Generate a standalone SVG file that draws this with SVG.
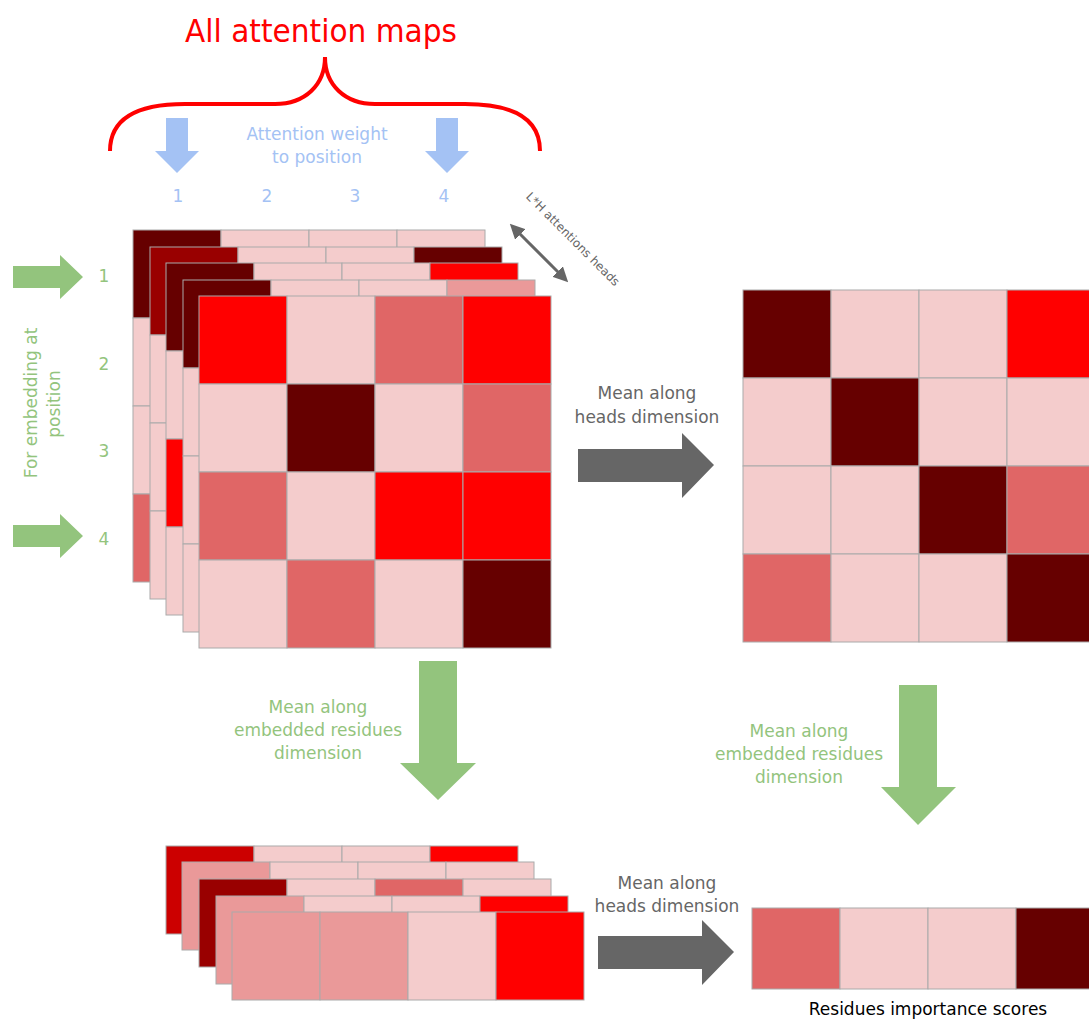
<svg xmlns="http://www.w3.org/2000/svg" width="1089" height="1019" viewBox="0 0 1089 1019">
<defs>
<style>
.c{stroke:#aaaaaa;stroke-width:1}
.dk{fill:#660000}.dr{fill:#990000}.cr{fill:#cc0000}.rd{fill:#ff0000}.md{fill:#e06666}.lp{fill:#ea9999}.pk{fill:#f4cccc}
text{font-family:"DejaVu Sans","Liberation Sans",sans-serif;font-size:17px}
.g{fill:#93c47d}.b{fill:#a4c2f4}.gy{fill:#666666}
</style>
<marker id="ah" viewBox="0 0 10 10" refX="7" refY="5" markerWidth="15" markerHeight="15" markerUnits="userSpaceOnUse" orient="auto-start-reverse"><path d="M0,0 L10,5 L0,10 z" fill="#666666"/></marker>
</defs>
<rect width="1089" height="1019" fill="#ffffff"/>

<g id="title">
<text x="321" y="42" text-anchor="middle" style="font-size:32px" fill="#ff0000" textLength="272" lengthAdjust="spacingAndGlyphs">All attention maps</text>
<path d="M110,151 C110,120 135,104 185,104 L275,104 C305,104 325,85 325,57 C325,85 345,104 375,104 L465,104 C515,104 540,120 540,151" fill="none" stroke="#ff0000" stroke-width="4"/>
</g>

<g id="top-labels">
<text class="b" x="317" y="140" text-anchor="middle">Attention weight</text>
<text class="b" x="317" y="163" text-anchor="middle">to position</text>
<text class="b" x="178" y="202" text-anchor="middle">1</text>
<text class="b" x="267" y="202" text-anchor="middle">2</text>
<text class="b" x="355" y="202" text-anchor="middle">3</text>
<text class="b" x="444" y="202" text-anchor="middle">4</text>
</g>

<g id="left-labels">
<text class="g" x="104" y="282" text-anchor="middle">1</text>
<text class="g" x="104" y="370" text-anchor="middle">2</text>
<text class="g" x="104" y="457" text-anchor="middle">3</text>
<text class="g" x="104" y="545" text-anchor="middle">4</text>
<text class="g" transform="translate(37,403) rotate(-90)" text-anchor="middle">For embedding at</text>
<text class="g" transform="translate(60,404) rotate(-90)" text-anchor="middle">position</text>
</g>

<g id="heads-label">
<text class="gy" transform="translate(570,242) rotate(45)" text-anchor="middle" style="font-size:12px">L*H attentions heads</text>
</g>

<g id="stack-layer1" class="c">
<rect class="dk" x="133" y="230" width="88" height="88"/><rect class="pk" x="221" y="230" width="88" height="88"/><rect class="pk" x="309" y="230" width="88" height="88"/><rect class="pk" x="397" y="230" width="88" height="88"/>
<rect class="pk" x="133" y="318" width="88" height="88"/><rect class="pk" x="133" y="406" width="88" height="88"/><rect class="md" x="133" y="494" width="88" height="88"/>
</g>
<g id="stack-layer2" class="c">
<rect class="dr" x="150" y="247" width="88" height="88"/><rect class="pk" x="238" y="247" width="88" height="88"/><rect class="pk" x="326" y="247" width="88" height="88"/><rect class="dk" x="414" y="247" width="88" height="88"/>
<rect class="pk" x="150" y="335" width="88" height="88"/><rect class="pk" x="150" y="423" width="88" height="88"/><rect class="pk" x="150" y="511" width="88" height="88"/>
</g>
<g id="stack-layer3" class="c">
<rect class="dk" x="166" y="263" width="88" height="88"/><rect class="pk" x="254" y="263" width="88" height="88"/><rect class="pk" x="342" y="263" width="88" height="88"/><rect class="rd" x="430" y="263" width="88" height="88"/>
<rect class="pk" x="166" y="351" width="88" height="88"/><rect class="rd" x="166" y="439" width="88" height="88"/><rect class="pk" x="166" y="527" width="88" height="88"/>
</g>
<g id="stack-layer4" class="c">
<rect class="dk" x="183" y="280" width="88" height="88"/><rect class="pk" x="271" y="280" width="88" height="88"/><rect class="pk" x="359" y="280" width="88" height="88"/><rect class="lp" x="447" y="280" width="88" height="88"/>
<rect class="pk" x="183" y="368" width="88" height="88"/><rect class="pk" x="183" y="456" width="88" height="88"/><rect class="pk" x="183" y="544" width="88" height="88"/>
</g>
<g id="stack-layer5" class="c">
<rect class="rd" x="199" y="296" width="88" height="88"/><rect class="pk" x="287" y="296" width="88" height="88"/><rect class="md" x="375" y="296" width="88" height="88"/><rect class="rd" x="463" y="296" width="88" height="88"/>
<rect class="pk" x="199" y="384" width="88" height="88"/><rect class="dk" x="287" y="384" width="88" height="88"/><rect class="pk" x="375" y="384" width="88" height="88"/><rect class="md" x="463" y="384" width="88" height="88"/>
<rect class="md" x="199" y="472" width="88" height="88"/><rect class="pk" x="287" y="472" width="88" height="88"/><rect class="rd" x="375" y="472" width="88" height="88"/><rect class="rd" x="463" y="472" width="88" height="88"/>
<rect class="pk" x="199" y="560" width="88" height="88"/><rect class="md" x="287" y="560" width="88" height="88"/><rect class="pk" x="375" y="560" width="88" height="88"/><rect class="dk" x="463" y="560" width="88" height="88"/>
</g>

<g id="mean-matrix" class="c">
<rect class="dk" x="743" y="290" width="88" height="88"/><rect class="pk" x="831" y="290" width="88" height="88"/><rect class="pk" x="919" y="290" width="88" height="88"/><rect class="rd" x="1007" y="290" width="88" height="88"/>
<rect class="pk" x="743" y="378" width="88" height="88"/><rect class="dk" x="831" y="378" width="88" height="88"/><rect class="pk" x="919" y="378" width="88" height="88"/><rect class="pk" x="1007" y="378" width="88" height="88"/>
<rect class="pk" x="743" y="466" width="88" height="88"/><rect class="pk" x="831" y="466" width="88" height="88"/><rect class="dk" x="919" y="466" width="88" height="88"/><rect class="md" x="1007" y="466" width="88" height="88"/>
<rect class="md" x="743" y="554" width="88" height="88"/><rect class="pk" x="831" y="554" width="88" height="88"/><rect class="pk" x="919" y="554" width="88" height="88"/><rect class="dk" x="1007" y="554" width="88" height="88"/>
</g>

<g id="row-layer1" class="c">
<rect class="cr" x="166" y="846" width="88" height="88"/><rect class="pk" x="254" y="846" width="88" height="88"/><rect class="pk" x="342" y="846" width="88" height="88"/><rect class="rd" x="430" y="846" width="88" height="88"/>
</g>
<g id="row-layer2" class="c">
<rect class="lp" x="182" y="862" width="88" height="88"/><rect class="pk" x="270" y="862" width="88" height="88"/><rect class="pk" x="358" y="862" width="88" height="88"/><rect class="pk" x="446" y="862" width="88" height="88"/>
</g>
<g id="row-layer3" class="c">
<rect class="dr" x="199" y="879" width="88" height="88"/><rect class="pk" x="287" y="879" width="88" height="88"/><rect class="md" x="375" y="879" width="88" height="88"/><rect class="pk" x="463" y="879" width="88" height="88"/>
</g>
<g id="row-layer4" class="c">
<rect class="lp" x="216" y="896" width="88" height="88"/><rect class="pk" x="304" y="896" width="88" height="88"/><rect class="pk" x="392" y="896" width="88" height="88"/><rect class="rd" x="480" y="896" width="88" height="88"/>
</g>
<g id="row-layer5" class="c">
<rect class="lp" x="232" y="912" width="88" height="88"/><rect class="lp" x="320" y="912" width="88" height="88"/><rect class="pk" x="408" y="912" width="88" height="88"/><rect class="rd" x="496" y="912" width="88" height="88"/>
</g>

<g id="scores" class="c">
<rect class="md" x="752" y="908" width="88" height="81"/><rect class="pk" x="840" y="908" width="88" height="81"/><rect class="pk" x="928" y="908" width="88" height="81"/><rect class="dk" x="1016" y="908" width="88" height="81"/>
</g>
<g id="scores-label">
<text x="928" y="1015" text-anchor="middle" fill="#000000">Residues importance scores</text>
</g>

<g id="step-labels">
<text class="gy" x="647" y="399" text-anchor="middle">Mean along</text>
<text class="gy" x="647" y="423" text-anchor="middle">heads dimension</text>
<text class="g" x="318" y="713" text-anchor="middle">Mean along</text>
<text class="g" x="318" y="736" text-anchor="middle">embedded residues</text>
<text class="g" x="318" y="759" text-anchor="middle">dimension</text>
<text class="g" x="799" y="737" text-anchor="middle">Mean along</text>
<text class="g" x="799" y="760" text-anchor="middle">embedded residues</text>
<text class="g" x="799" y="783" text-anchor="middle">dimension</text>
<text class="gy" x="667" y="889" text-anchor="middle">Mean along</text>
<text class="gy" x="667" y="912" text-anchor="middle">heads dimension</text>
</g>

<g id="connectors">
<polygon fill="#a4c2f4" points="166,118 188,118 188,151 199,151 177,173 155,151 166,151"/>
<polygon fill="#a4c2f4" points="436,118 458,118 458,151 469,151 447,173 425,151 436,151"/>
<polygon fill="#93c47d" points="13,266 60,266 60,255 83,277 60,299 60,288 13,288"/>
<polygon fill="#93c47d" points="13,525 60,525 60,514 83,536 60,558 60,547 13,547"/>
<line x1="513" y1="227" x2="565" y2="279" stroke="#666666" stroke-width="3" marker-start="url(#ah)" marker-end="url(#ah)"/>
<polygon fill="#666666" points="578,449 682,449 682,433 714,465 682,498 682,482 578,482"/>
<polygon fill="#93c47d" points="419,661 457,661 457,763 476,763 438,800 400,763 419,763"/>
<polygon fill="#93c47d" points="899,685 937,685 937,787 956,787 918,825 881,787 899,787"/>
<polygon fill="#666666" points="598,936 702,936 702,920 734,952 702,985 702,969 598,969"/>
</g>
</svg>
